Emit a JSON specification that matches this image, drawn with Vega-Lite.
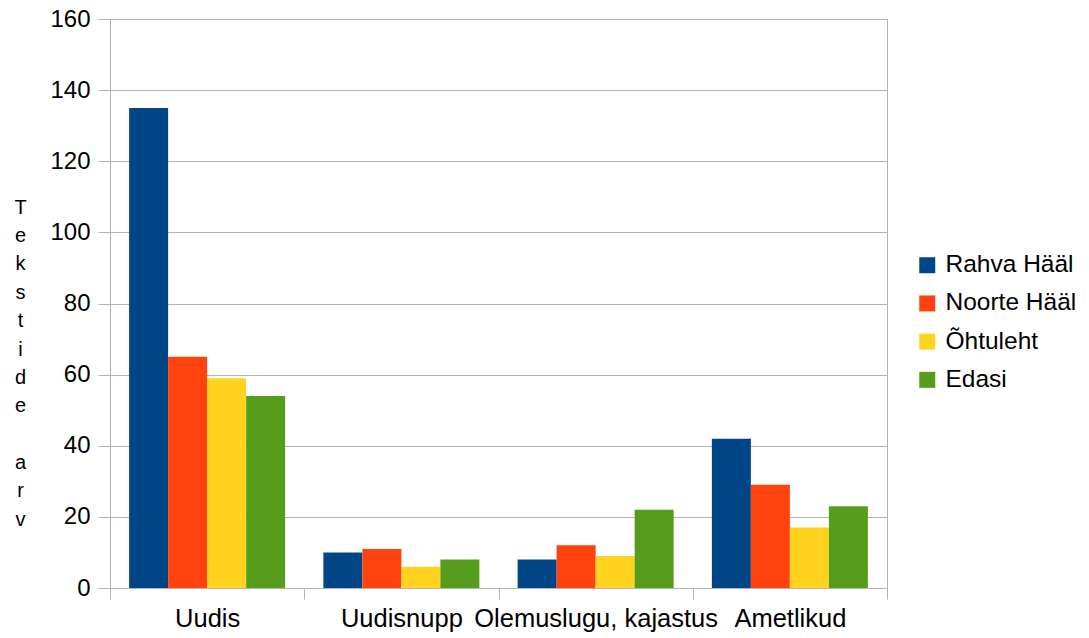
{
  "$schema": "https://vega.github.io/schema/vega-lite/v6.json",
  "autosize": {"type": "none"},
  "padding": {"left": 110, "top": 19, "right": 202, "bottom": 50},
  "width": 777,
  "height": 569,
  "background": "white",
  "config": {
    "font": "Liberation Sans",
    "view": {"stroke": "#b3b3b3", "strokeWidth": 1}
  },
  "data": {
    "values": [
      {"kategooria": "Uudis", "väljaanne": "Rahva Hääl", "arv": 135},
      {"kategooria": "Uudis", "väljaanne": "Noorte Hääl", "arv": 65},
      {"kategooria": "Uudis", "väljaanne": "Õhtuleht", "arv": 59},
      {"kategooria": "Uudis", "väljaanne": "Edasi", "arv": 54},
      {"kategooria": "Uudisnupp", "väljaanne": "Rahva Hääl", "arv": 10},
      {"kategooria": "Uudisnupp", "väljaanne": "Noorte Hääl", "arv": 11},
      {"kategooria": "Uudisnupp", "väljaanne": "Õhtuleht", "arv": 6},
      {"kategooria": "Uudisnupp", "väljaanne": "Edasi", "arv": 8},
      {"kategooria": "Olemuslugu, kajastus", "väljaanne": "Rahva Hääl", "arv": 8},
      {"kategooria": "Olemuslugu, kajastus", "väljaanne": "Noorte Hääl", "arv": 12},
      {"kategooria": "Olemuslugu, kajastus", "väljaanne": "Õhtuleht", "arv": 9},
      {"kategooria": "Olemuslugu, kajastus", "väljaanne": "Edasi", "arv": 22},
      {"kategooria": "Ametlikud", "väljaanne": "Rahva Hääl", "arv": 42},
      {"kategooria": "Ametlikud", "väljaanne": "Noorte Hääl", "arv": 29},
      {"kategooria": "Ametlikud", "väljaanne": "Õhtuleht", "arv": 17},
      {"kategooria": "Ametlikud", "väljaanne": "Edasi", "arv": 23}
    ]
  },
  "mark": {"type": "bar"},
  "encoding": {
    "x": {
      "field": "kategooria",
      "type": "nominal",
      "sort": ["Uudis", "Uudisnupp", "Olemuslugu, kajastus", "Ametlikud"],
      "scale": {"paddingInner": 0, "paddingOuter": 0},
      "axis": {
        "title": null,
        "labelAngle": 0,
        "labelFontSize": 25.5,
        "labelColor": "black",
        "labelPadding": 7,
        "labelOverlap": false,
        "labelLimit": 0,
        "tickBand": "extent",
        "tickSize": 11,
        "tickColor": "#b3b3b3",
        "domainColor": "#b3b3b3",
        "grid": false
      }
    },
    "xOffset": {
      "field": "väljaanne",
      "type": "nominal",
      "sort": ["Rahva Hääl", "Noorte Hääl", "Õhtuleht", "Edasi"],
      "scale": {"paddingInner": 0, "paddingOuter": 0.49}
    },
    "y": {
      "field": "arv",
      "type": "quantitative",
      "scale": {"domain": [0, 160], "nice": false},
      "axis": {
        "values": [0, 20, 40, 60, 80, 100, 120, 140, 160],
        "title": ["T", "e", "k", "s", "t", "i", "d", "e", "\u2800", "a", "r", "v"],
        "titleAngle": 0,
        "titleFontSize": 20,
        "titleFontWeight": "normal",
        "titleColor": "black",
        "titleLineHeight": 28.4,
        "titleAlign": "center",
        "titleBaseline": "alphabetic",
        "titleX": -90,
        "titleY": 194,
        "labelFontSize": 24,
        "labelColor": "black",
        "labelPadding": 8,
        "tickSize": 12,
        "tickColor": "#b3b3b3",
        "domainColor": "#b3b3b3",
        "gridColor": "#b3b3b3",
        "gridOpacity": 1
      }
    },
    "color": {
      "field": "väljaanne",
      "type": "nominal",
      "sort": ["Rahva Hääl", "Noorte Hääl", "Õhtuleht", "Edasi"],
      "scale": {
        "domain": ["Rahva Hääl", "Noorte Hääl", "Õhtuleht", "Edasi"],
        "range": ["#004586", "#ff420e", "#ffd320", "#579d1c"]
      },
      "legend": {
        "title": null,
        "orient": "none",
        "legendX": 805,
        "legendY": 234,
        "symbolType": "square",
        "symbolSize": 256,
        "symbolStrokeWidth": 0,
        "symbolOpacity": 1,
        "labelFontSize": 24.5,
        "labelColor": "black",
        "labelOffset": 6,
        "labelLimit": 0,
        "rowPadding": 13.2
      }
    }
  }
}
